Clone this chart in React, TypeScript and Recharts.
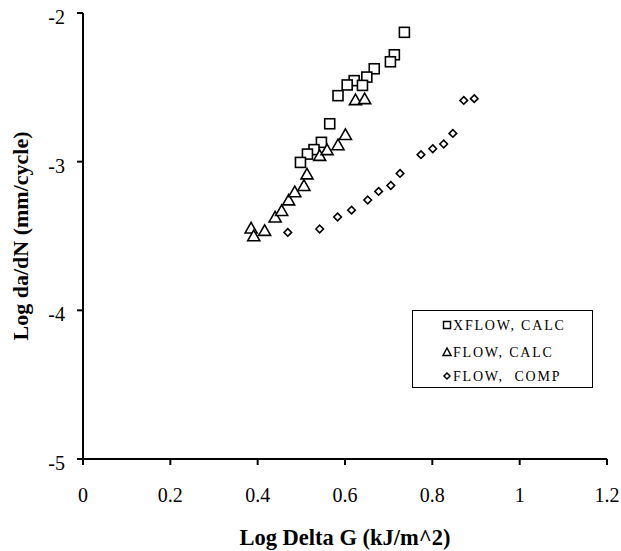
import React from 'react';
import { ScatterChart, Scatter, XAxis, YAxis, Legend } from 'recharts';

const seriesNames = ['XFLOW, CALC', 'FLOW, CALC', 'FLOW,  COMP'];

const xflowCalcX = [0.736, 0.713, 0.704, 0.667, 0.65, 0.621, 0.64, 0.605, 0.584, 0.565, 0.546, 0.529, 0.514, 0.498];
const xflowCalcY = [-2.13, -2.281, -2.328, -2.375, -2.431, -2.455, -2.487, -2.484, -2.556, -2.745, -2.87, -2.919, -2.949, -3.005];

const flowCalcX = [0.385, 0.391, 0.416, 0.44, 0.455, 0.471, 0.485, 0.506, 0.513, 0.542, 0.559, 0.584, 0.601, 0.624, 0.645];
const flowCalcY = [-3.446, -3.498, -3.462, -3.372, -3.328, -3.257, -3.202, -3.16, -3.082, -2.958, -2.919, -2.886, -2.817, -2.583, -2.576];

const flowCompX = [0.469, 0.542, 0.583, 0.615, 0.652, 0.677, 0.705, 0.726, 0.774, 0.801, 0.826, 0.847, 0.872, 0.896];
const flowCompY = [-3.476, -3.453, -3.372, -3.326, -3.258, -3.2, -3.16, -3.079, -2.953, -2.913, -2.881, -2.81, -2.588, -2.576];

const xTicks = [0, 0.2, 0.4, 0.6, 0.8, 1, 1.2];
const yTicks = [-5, -4, -3, -2];

const xTitle = 'Log Delta G (kJ/m^2)';
const yTitle = 'Log da/dN (mm/cycle)';

const zip = (xs: number[], ys: number[]) => xs.map((x, i) => ({ x, y: ys[i] }));
const xflowCalc = zip(xflowCalcX, xflowCalcY);
const flowCalc = zip(flowCalcX, flowCalcY);
const flowComp = zip(flowCompX, flowCompY);

const FONT = '"Liberation Serif", "Times New Roman", serif';

const SquareShape = (p: any) => (
  <rect x={p.cx - 5} y={p.cy - 5} width={10} height={10} fill="#fff" stroke="#000" strokeWidth={1.6} />
);
const TriangleShape = (p: any) => (
  <polygon
    points={`${p.cx},${p.cy - 5.5} ${p.cx + 6},${p.cy + 5} ${p.cx - 6},${p.cy + 5}`}
    fill="#fff"
    stroke="#000"
    strokeWidth={1.6}
    strokeLinejoin="miter"
  />
);
const DiamondShape = (p: any) => (
  <polygon
    points={`${p.cx},${p.cy - 3.8} ${p.cx + 3.8},${p.cy} ${p.cx},${p.cy + 3.8} ${p.cx - 3.8},${p.cy}`}
    fill="#fff"
    stroke="#000"
    strokeWidth={1.6}
  />
);

const XTick = (props: any) => {
  const { x, y, payload } = props;
  return (
    <text x={x} y={y + 35} textAnchor="middle" fontFamily={FONT} fontSize={20} fill="#000">
      {payload.value}
    </text>
  );
};

const YTick = (props: any) => {
  const { x, y, payload } = props;
  return (
    <text x={x - 10} y={y + 11} textAnchor="end" fontFamily={FONT} fontSize={20} fill="#000">
      {payload.value}
    </text>
  );
};

const XTitle = (props: any) => {
  const vb = props.viewBox;
  return (
    <text x={vb.x + vb.width / 2} y={vb.y + 86} textAnchor="middle" fontFamily={FONT} fontWeight="bold" fontSize={22.5} fill="#000">
      {xTitle}
    </text>
  );
};

const YTitle = (props: any) => {
  const vb = props.viewBox;
  const cx = 28;
  const cy = vb.y + vb.height / 2;
  return (
    <text
      x={cx}
      y={cy}
      transform={`rotate(-90, ${cx}, ${cy})`}
      textAnchor="middle"
      fontFamily={FONT}
      fontWeight="bold"
      fontSize={22}
      fill="#000"
    >
      {yTitle}
    </text>
  );
};

const LegendContent = () => {
  const rows = [14, 41, 65];
  const mk = [
    (cx: number, cy: number) => <rect x={cx - 3.5} y={cy - 3.5} width={7} height={7} fill="#fff" stroke="#000" strokeWidth={1.5} />,
    (cx: number, cy: number) => (
      <polygon points={`${cx},${cy - 4} ${cx + 4},${cy + 3.5} ${cx - 4},${cy + 3.5}`} fill="#fff" stroke="#000" strokeWidth={1.5} />
    ),
    (cx: number, cy: number) => (
      <polygon points={`${cx},${cy - 3} ${cx + 3},${cy} ${cx},${cy + 3} ${cx - 3},${cy}`} fill="#fff" stroke="#000" strokeWidth={1.5} />
    ),
  ];
  return (
    <div style={{ width: 179, height: 76, border: '1px solid #000', background: '#fff', boxSizing: 'content-box' }}>
      <svg width={179} height={76} style={{ display: 'block' }}>
        {seriesNames.map((n, i) => (
          <g key={n}>
            {mk[i](34, rows[i])}
            <text
              x={40}
              y={rows[i] + 5}
              fontFamily={FONT}
              fontSize={14}
              letterSpacing={1.8}
              fill="#000"
              style={{ whiteSpace: 'pre' }}
            >
              {n}
            </text>
          </g>
        ))}
      </svg>
    </div>
  );
};

export default function App() {
  return (
    <div style={{ position: 'absolute', left: 0, top: 0, width: 621, height: 551, background: '#fff' }}>
      <ScatterChart width={621} height={551} margin={{ top: 13, right: 14, bottom: 0, left: 0 }}>
        <XAxis
          type="number"
          dataKey="x"
          domain={[0, 1.2]}
          ticks={xTicks}
          interval={0}
          height={92}
          tickSize={6}
          axisLine={{ stroke: '#000', strokeWidth: 2 }}
          tickLine={{ stroke: '#000', strokeWidth: 2 }}
          tick={<XTick />}
          label={<XTitle />}
          allowDataOverflow
        />
        <YAxis
          type="number"
          dataKey="y"
          domain={[-5, -2]}
          ticks={yTicks}
          interval={0}
          width={83}
          tickSize={6}
          axisLine={{ stroke: '#000', strokeWidth: 2 }}
          tickLine={{ stroke: '#000', strokeWidth: 2 }}
          tick={<YTick />}
          label={<YTitle />}
          allowDataOverflow
        />
        <Legend
          layout="vertical"
          align="center"
          verticalAlign="middle"
          content={<LegendContent />}
          wrapperStyle={{ position: 'absolute', left: 412, top: 310, width: 181, height: 78 }}
        />
        <Scatter name={seriesNames[0]} data={xflowCalc} shape={SquareShape} isAnimationActive={false} />
        <Scatter name={seriesNames[1]} data={flowCalc} shape={TriangleShape} isAnimationActive={false} />
        <Scatter name={seriesNames[2]} data={flowComp} shape={DiamondShape} isAnimationActive={false} />
      </ScatterChart>
    </div>
  );
}
